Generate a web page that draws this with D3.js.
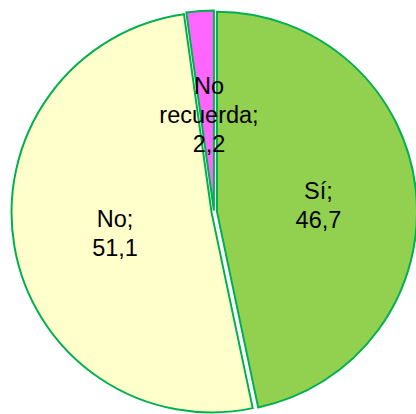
<!DOCTYPE html>
<html>
<head>
<meta charset="utf-8">
<script src="https://cdn.jsdelivr.net/npm/d3@7"></script>
<style>
html,body{margin:0;padding:0;background:#fff;}
svg{display:block;}
</style>
</head>
<body>
<svg id="chart" width="416" height="414"></svg>
<script>
const categories = ["Sí", "No", "No recuerda"];
const values = [46.7, 51.1, 2.2];
const valueLabels = ["46,7", "51,1", "2,2"];
const colors = ["#92D050", "#FFFFCC", "#FF66FF"];
const explodeOffsets = [3, 2.5, 1.5];

const W = 416, H = 414;
const cx = 214, cy = 212, r = 200;

const svg = d3.select("#chart");
const g = svg.append("g").attr("transform", `translate(${cx},${cy})`);

const data = categories.map((c, i) => ({cat: c, value: values[i], label: valueLabels[i], color: colors[i], off: explodeOffsets[i]}));
const pie = d3.pie().sort(null).value(d => d.value);
const arcs = pie(data);
const arc = d3.arc().innerRadius(0).outerRadius(r);

function offset(d) {
  const a = (d.startAngle + d.endAngle) / 2;
  return [Math.sin(a) * d.data.off, -Math.cos(a) * d.data.off];
}

const slices = g.selectAll("g.slice").data(arcs).enter().append("g")
  .attr("class", "slice")
  .attr("transform", d => { const o = offset(d); return `translate(${o[0]},${o[1]})`; });

slices.append("path")
  .attr("d", arc)
  .attr("fill", d => d.data.color)
  .attr("stroke", "#00B050")
  .attr("stroke-width", 2)
  .attr("stroke-linejoin", "miter");

const fontSize = 23.5, lineH = 29;
slices.each(function(d) {
  const c = arc.centroid(d);
  const words = d.data.cat.split(" ");
  words[words.length - 1] += ";";
  const lines = words.concat([d.data.label]);
  const n = lines.length;
  const t = d3.select(this).append("text")
    .attr("font-family", "'Liberation Sans', Arial, sans-serif")
    .attr("font-size", fontSize)
    .attr("fill", "#000")
    .attr("text-anchor", "middle");
  lines.forEach((ln, i) => {
    t.append("tspan")
      .attr("x", c[0] + 2)
      .attr("y", c[1] + 4 + (i - (n - 1) / 2) * lineH)
      .attr("dominant-baseline", "central")
      .text(ln);
  });
});
</script>
</body>
</html>
